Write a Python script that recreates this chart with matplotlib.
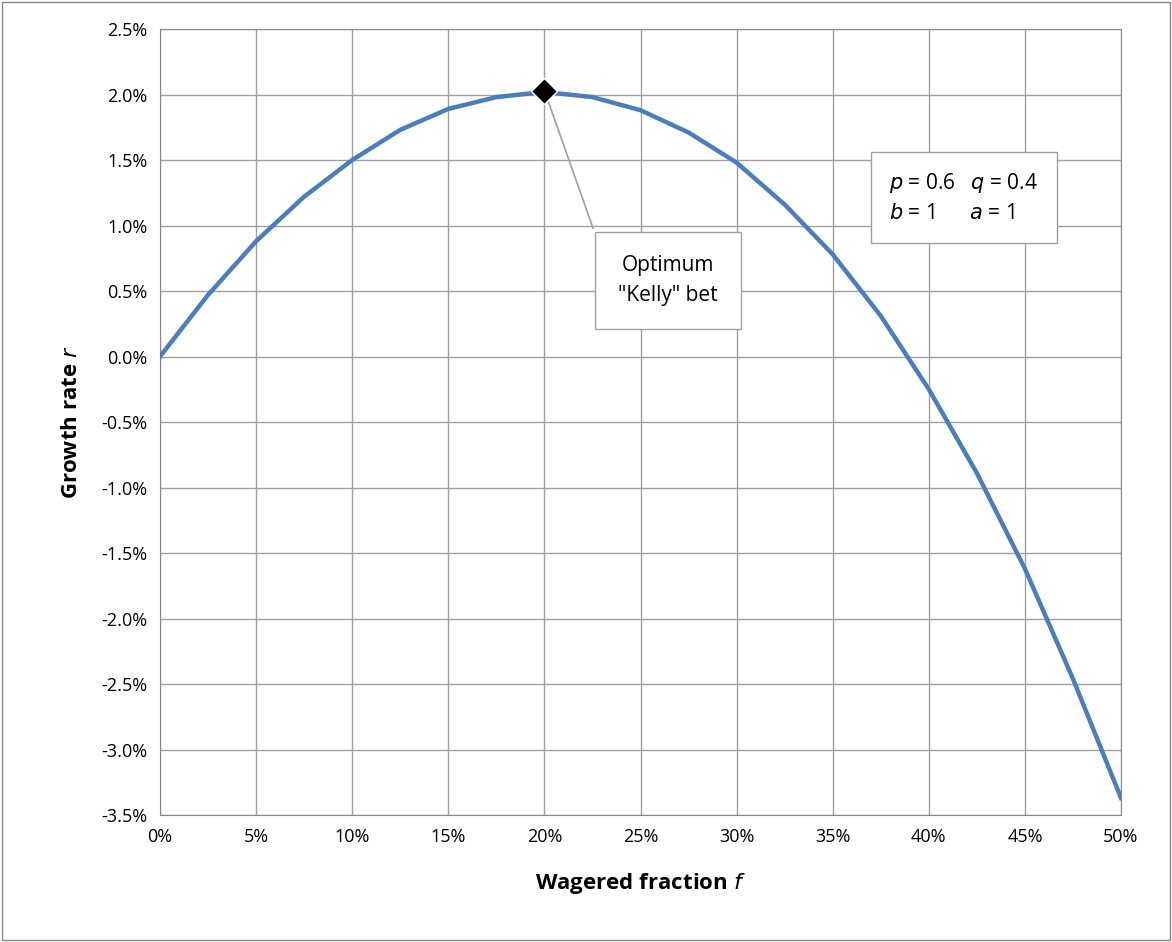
import matplotlib.pyplot as plt
from matplotlib.ticker import FuncFormatter

plt.rcParams['font.family'] = ['Open Sans', 'DejaVu Sans']

# wagered fraction f and growth rate r
fraction = [0.0, 0.025, 0.05, 0.075, 0.10, 0.125, 0.15, 0.175, 0.20, 0.225, 0.25,
            0.275, 0.30, 0.325, 0.35, 0.375, 0.40, 0.425, 0.45, 0.475, 0.50]
growth = [0.0, 0.0047, 0.0088, 0.0122, 0.0150, 0.0173, 0.0189, 0.0198, 0.0202, 0.0198, 0.0188,
          0.0171, 0.0148, 0.0116, 0.0078, 0.0031, -0.0025, -0.0089, -0.0162, -0.0246, -0.0337]
kelly_f = 0.20
kelly_r = 0.0203

W, H = 1172, 942
fig = plt.figure(figsize=(W / 100, H / 100), dpi=100)
ax = fig.add_axes([160 / W, 1 - 815 / H, (1121 - 160) / W, (815 - 29) / H])

ax.plot(fraction, growth, color='#4a7ebb', lw=3.2, solid_joinstyle='round', zorder=3)
ax.plot([kelly_f], [kelly_r], marker='D', ms=13, color='black', mec='white', mew=1, zorder=5)

ax.set_xlim(0, 0.5)
ax.set_ylim(-0.035, 0.025)
ax.set_xticks([i * 0.05 for i in range(11)])
ax.set_yticks([-0.035 + i * 0.005 for i in range(13)])
ax.xaxis.set_major_formatter(FuncFormatter(lambda v, p: f"{v * 100:.0f}%"))
ax.yaxis.set_major_formatter(FuncFormatter(lambda v, p: f"{v * 100:.1f}%"))
ax.tick_params(labelsize=13, length=0, pad=9)
ax.grid(True, color='#a0a0a0', lw=1)
for s in ax.spines.values():
    s.set_color('#888888')

ax.set_xlabel('Wagered fraction $\\mathit{f}$', fontsize=16, fontweight='bold', labelpad=18)
ax.set_ylabel('Growth rate $\\mathit{r}$', fontsize=16, fontweight='bold', labelpad=14)

# callout leader line and box
ax.plot([kelly_f, 0.2253], [kelly_r, 0.0098], color='#a0a0a0', lw=1.2, zorder=4)
ax.text(0.2643, 0.0058, 'Optimum\n"Kelly" bet',
        ha='center', va='center', fontsize=15, linespacing=1.6,
        bbox=dict(boxstyle='square,pad=1.1', fc='white', ec='#a0a0a0'), zorder=6)

ax.text(0.3795, 0.0121, '$\\mathit{p}$ = 0.6   $\\mathit{q}$ = 0.4\n$\\mathit{b}$ = 1      $\\mathit{a}$ = 1',
        ha='left', va='center', fontsize=15, linespacing=1.5, multialignment='left',
        bbox=dict(boxstyle='square,pad=0.9', fc='white', ec='#a0a0a0'), zorder=6)

fig.patches.append(plt.Rectangle((0.002, 0.002), 0.996, 0.996, transform=fig.transFigure,
                                 fill=False, ec='#888888', lw=1))
fig.savefig('out.png', dpi=100)
